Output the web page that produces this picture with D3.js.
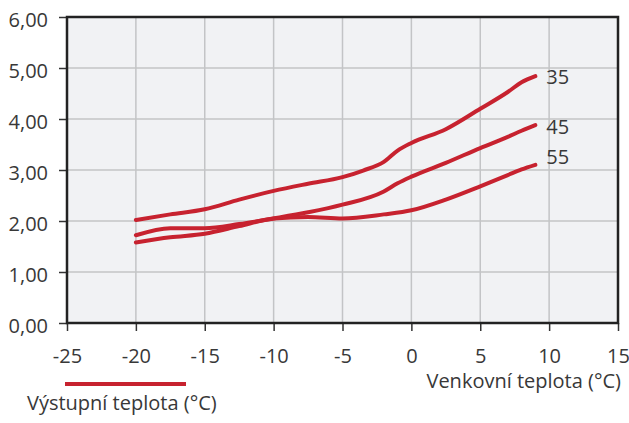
<!DOCTYPE html>
<html>
<head>
<meta charset="utf-8">
<script src="https://cdn.jsdelivr.net/npm/d3@7"></script>
<style>
  body { margin: 0; background: #fff; }
  text { font-family: "Open Sans", "Noto Sans", sans-serif; fill: #383838; }
</style>
</head>
<body>
<script>
// outdoor temperature (°C) and COP per outlet temperature
var temps35 = [-20, -17.5, -15, -12.5, -10, -7.5, -5, -3.5, -2, -1, 0, 2.5, 5, 7, 8, 9];
var cop35   = [2.02, 2.13, 2.23, 2.42, 2.59, 2.73, 2.86, 2.99, 3.16, 3.38, 3.53, 3.80, 4.20, 4.53, 4.72, 4.84];

var temps45 = [-20, -17.5, -15, -12.5, -10, -7.5, -5, -2, -1, 0, 2.5, 5, 7, 8, 9];
var cop45   = [1.72, 1.86, 1.86, 1.94, 2.05, 2.17, 2.32, 2.58, 2.74, 2.87, 3.14, 3.43, 3.65, 3.77, 3.88];

var temps55 = [-20, -17.5, -15, -12.5, -10, -7.5, -5, -2, 0, 2.5, 5, 7, 8, 9];
var cop55   = [1.58, 1.68, 1.75, 1.90, 2.05, 2.08, 2.05, 2.13, 2.21, 2.42, 2.68, 2.90, 3.01, 3.10];

var seriesNames = ["35", "45", "55"];
var xTicks = [-25, -20, -15, -10, -5, 0, 5, 10, 15];
var yTicks = [0, 1, 2, 3, 4, 5, 6];

var xTitle = "Venkovní teplota (°C)";
var legendTitle = "Výstupní teplota (°C)";

var width = 629, height = 423;
var margin = {left: 67, right: 11, top: 17, bottom: 100};
var fontSize = "20px";

var svg = d3.select("body").append("svg")
    .attr("width", width)
    .attr("height", height);

var x = d3.scaleLinear().domain([-25, 15]).range([margin.left, width - margin.right]);
var y = d3.scaleLinear().domain([0, 6]).range([height - margin.bottom, margin.top]);

var red = "#c7222f";

// plot background
svg.append("rect")
    .attr("x", x(-25)).attr("y", y(6))
    .attr("width", x(15) - x(-25)).attr("height", y(0) - y(6))
    .attr("fill", "#f1f2f4");

// grid
svg.append("g").selectAll("line")
    .data(xTicks.slice(1, -1)).enter().append("line")
    .attr("x1", function(d) { return x(d); }).attr("x2", function(d) { return x(d); })
    .attr("y1", y(0)).attr("y2", y(6))
    .attr("stroke", "#c3c4c6").attr("stroke-width", 1.5);

svg.append("g").selectAll("line")
    .data(yTicks.slice(1, -1)).enter().append("line")
    .attr("x1", x(-25)).attr("x2", x(15))
    .attr("y1", function(d) { return y(d); }).attr("y2", function(d) { return y(d); })
    .attr("stroke", "#c3c4c6").attr("stroke-width", 1.5);

// axes - comma decimals, plain hyphen minus like the original
var fmt = function(d) { return d3.format(".2f")(d).replace(".", ","); };

var yAxis = svg.append("g")
    .attr("transform", "translate(" + x(-25) + ",0)")
    .call(d3.axisLeft(y).tickValues(yTicks).tickFormat(fmt).tickSize(8).tickPadding(11));

var xAxis = svg.append("g")
    .attr("transform", "translate(0," + y(0) + ")")
    .call(d3.axisBottom(x).tickValues(xTicks).tickFormat(function(d) { return String(d); })
      .tickSize(8).tickPadding(18));

[xAxis, yAxis].forEach(function(a) {
  a.select(".domain").remove();
  a.selectAll(".tick line").attr("stroke", "#333").attr("stroke-width", 1.5);
  a.selectAll(".tick text").style("font-size", fontSize).attr("fill", "#383838")
    .style("font-family", "'Open Sans', 'Noto Sans', sans-serif");
});
yAxis.selectAll(".tick text").attr("dy", "0.48em");

// frame
svg.append("rect")
    .attr("x", x(-25)).attr("y", y(6))
    .attr("width", x(15) - x(-25)).attr("height", y(0) - y(6))
    .attr("fill", "none")
    .attr("stroke", "#222").attr("stroke-width", 2.5);

// lines
var series = [
  {name: seriesNames[0], xs: temps35, ys: cop35, shift: 1},
  {name: seriesNames[1], xs: temps45, ys: cop45, shift: 2},
  {name: seriesNames[2], xs: temps55, ys: cop55, shift: -8}
];

var line = d3.line()
    .x(function(d) { return x(d[0]); })
    .y(function(d) { return y(d[1]); })
    .curve(d3.curveMonotoneX);

series.forEach(function(s) {
  var pts = s.xs.map(function(t, i) { return [t, s.ys[i]]; });
  svg.append("path")
      .datum(pts)
      .attr("d", line)
      .attr("fill", "none")
      .attr("stroke", red)
      .attr("stroke-width", 4)
      .attr("stroke-linecap", "round")
      .attr("stroke-linejoin", "round");

  var last = pts[pts.length - 1];
  svg.append("text")
      .attr("x", x(last[0]) + 11)
      .attr("y", y(last[1]) + s.shift)
      .attr("dy", "0.35em")
      .style("font-size", fontSize)
      .text(s.name);
});

// axis title
svg.append("text")
    .attr("x", x(15) + 3)
    .attr("y", 388)
    .attr("text-anchor", "end")
    .style("font-size", fontSize)
    .text(xTitle);

// legend
svg.append("line")
    .attr("x1", 65).attr("x2", 186)
    .attr("y1", 384).attr("y2", 384)
    .attr("stroke", red).attr("stroke-width", 4);

svg.append("text")
    .attr("x", 27)
    .attr("y", 410)
    .style("font-size", fontSize)
    .text(legendTitle);
</script>
</body>
</html>
